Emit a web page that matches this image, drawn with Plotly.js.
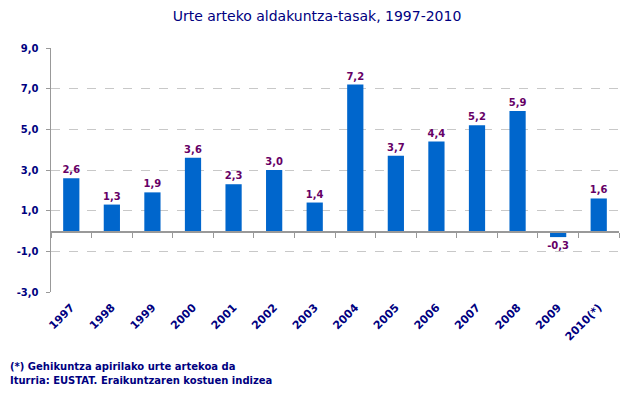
<!DOCTYPE html>
<html><head><meta charset="utf-8">
<script src="https://cdn.plot.ly/plotly-3.0.1.min.js"></script>
<style>body{margin:0;background:#fff}#c{width:634px;height:399px}</style>
</head><body><div id="c"></div>
<script>
const years = ['1997','1998','1999','2000','2001','2002','2003','2004','2005','2006','2007','2008','2009','2010(*)'];
const rates = [2.6,1.3,1.9,3.6,2.3,3.0,1.4,7.2,3.7,4.4,5.2,5.9,-0.3,1.6];
const yTicks = [-3,-1,1,3,5,7,9];
const titleText = 'Urte arteko aldakuntza-tasak, 1997-2010';
const notes = ['(*) Gehikuntza apirilako urte artekoa da','Iturria: EUSTAT. Eraikuntzaren kostuen indizea'];

const fmt = v => v.toFixed(1).replace('.', ',');
const navy = '#000080';
const font = 'Verdana, "DejaVu Sans", sans-serif';

const data = [
  {type:'bar', x:years, y:rates, xaxis:'x', yaxis:'y',
   marker:{color:'#0066CC'}, text:rates.map(fmt), textposition:'outside',
   constraintext:'none', cliponaxis:false,
   textfont:{family:font, size:10, color:'#660066', weight:'bold'}, hoverinfo:'none'},
  {type:'bar', x:years, y:rates, xaxis:'x2', yaxis:'y',
   marker:{color:'rgba(0,0,0,0)'}, hoverinfo:'none', showlegend:false}
];
const layout = {
  width:634, height:399, showlegend:false,
  paper_bgcolor:'#fff', plot_bgcolor:'#fff',
  margin:{l:51, r:15, t:48, b:107},
  bargap:0.6,
  separators:',.',
  title:{text:titleText, x:0.5, xanchor:'center', y:0.96, yref:'container', yanchor:'middle',
         font:{family:font, size:14, color:navy}},
  xaxis:{type:'category', showline:false, ticks:'', showgrid:false, zeroline:false,
         tickangle:-45, ticklabelstandoff:6, tickfont:{family:font, size:11, color:navy, weight:'bold'}},
  xaxis2:{type:'category', overlaying:'x', anchor:'free', position:0.25, side:'bottom',
          showline:true, linecolor:'#999', linewidth:1.5, ticks:'outside', ticklen:5, tickcolor:'#999',
          tickson:'boundaries', showticklabels:false, showgrid:false, zeroline:false},
  yaxis:{range:[-3,9], tickvals:yTicks, ticktext:yTicks.map(fmt),
         showline:true, linecolor:'#999', linewidth:1.5, ticks:'outside', ticklen:4, tickcolor:'#999',
         showgrid:true, gridcolor:'#c8c8c8', griddash:'dash', zeroline:false, ticklabelstandoff:5,
         tickfont:{family:font, size:10, color:navy, weight:'bold'}},
  annotations: notes.map((t,i)=>({text:t, xref:'paper', yref:'paper', x:-0.076, xanchor:'left',
     y:-0.307 - i*0.057, yanchor:'middle', showarrow:false,
     font:{family:font, size:10, color:navy, weight:'bold'}}))
};
Plotly.newPlot('c', data, layout, {staticPlot:true});
</script></body></html>
